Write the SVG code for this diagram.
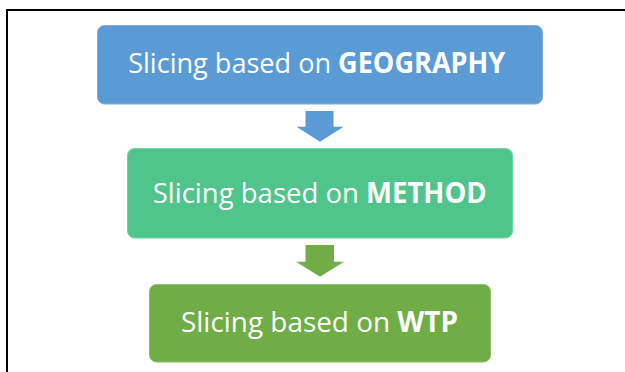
<svg xmlns="http://www.w3.org/2000/svg" width="625" height="372" viewBox="0 0 625 372">
<style>
.lbl{font-family:"Open Sans","Noto Sans","Liberation Sans",sans-serif;font-size:28px;fill:#fff;text-anchor:middle}
.b{font-weight:bold}
</style>
<rect x="0" y="0" width="625" height="372" fill="#fff"/>
<path d="M7,372 V10 H625" fill="none" stroke="#000" stroke-width="2"/>
<g id="connectors">
<polygon points="305.5,111 333.5,111 333.5,126.7 343.5,126.7 320,141.7 296.5,126.7 305.5,126.7" fill="#5B9BD5"/>
<polygon points="305.5,245 334,245 334,261.7 344,261.7 320,276.7 296,261.7 305.5,261.7" fill="#70AD47"/>
</g>
<g id="geography">
<rect x="97.5" y="25.5" width="445" height="78.5" rx="7" fill="#5B9BD5" stroke="#7BAEE0" stroke-width="1"/>
<text class="lbl" x="316.7" y="73.3" textLength="377" lengthAdjust="spacingAndGlyphs">Slicing based on <tspan class="b">GEOGRAPHY</tspan></text>
</g>
<g id="method">
<rect x="127.5" y="148.5" width="385" height="89.5" rx="7" fill="#4FC58C" stroke="#72D3A5" stroke-width="1"/>
<text class="lbl" x="319.7" y="203.3" textLength="334" lengthAdjust="spacingAndGlyphs">Slicing based on <tspan class="b">METHOD</tspan></text>
</g>
<g id="wtp">
<rect x="149.5" y="284.5" width="341" height="77.5" rx="7" fill="#70AD47" stroke="#8CC06A" stroke-width="1"/>
<text class="lbl" x="319.5" y="332" textLength="277" lengthAdjust="spacingAndGlyphs">Slicing based on <tspan class="b">WTP</tspan></text>
</g>
</svg>
